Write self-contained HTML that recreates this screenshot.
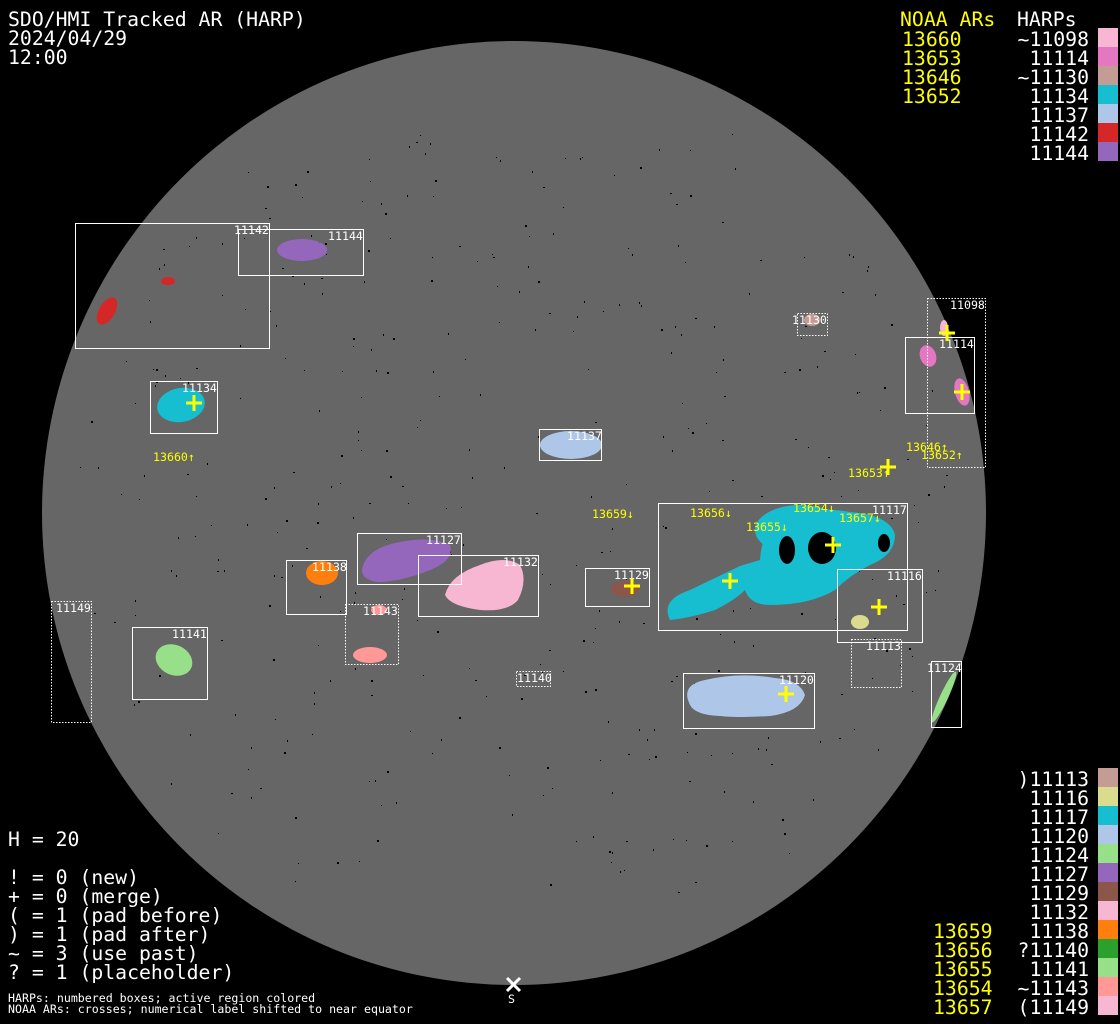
<!DOCTYPE html>
<html><head><meta charset="utf-8"><style>
html,body{margin:0;padding:0;background:#000;}
svg{display:block}
text{font-family:"DejaVu Sans Mono","Liberation Mono",monospace;}
.b{font-size:19.8px;fill:#fff}
.y{font-size:19.8px;fill:#ff0}
.s{font-size:11.6px;fill:#fff}
.sy{font-size:11.6px;fill:#ff0}
.bx{fill:none;stroke:#fff;stroke-width:1}
.dx{fill:none;stroke:#fff;stroke-width:1;stroke-dasharray:1.5 1.5}
.cr{stroke:#ff0;stroke-width:3}
</style></head><body>
<svg id="s" width="1120" height="1024" viewBox="0 0 1120 1024" xmlns="http://www.w3.org/2000/svg">
<rect width="1120" height="1024" fill="#000"/>
<circle cx="514" cy="513" r="472" fill="#666"/>
<g id="dots" fill="#000"></g>
<ellipse cx="107" cy="311" rx="8" ry="15" transform="rotate(30 107 311)" fill="#d62728"/>
<ellipse cx="168" cy="281" rx="7" ry="4" fill="#d62728"/>
<ellipse cx="302" cy="250" rx="25" ry="11" fill="#9467bd"/>
<ellipse cx="181" cy="405" rx="24" ry="17" transform="rotate(-10 181 405)" fill="#17becf"/>
<ellipse cx="571" cy="445" rx="31" ry="14" fill="#aec7e8"/>
<ellipse cx="812" cy="320" rx="8" ry="6" fill="#c49c94"/>
<ellipse cx="944" cy="328" rx="4" ry="8" fill="#f7b6d2"/>
<ellipse cx="928" cy="356" rx="8" ry="11" transform="rotate(-20 928 356)" fill="#e377c2"/>
<ellipse cx="962" cy="392" rx="7" ry="14" transform="rotate(-15 962 392)" fill="#e377c2"/>
<path d="M670 620 Q660 600 690 590 Q715 578 740 566 L760 560 Q762 530 780 518 Q810 505 850 512 Q890 515 895 535 Q895 555 870 565 Q850 575 835 590 Q810 605 770 605 Q750 605 745 590 Q735 600 715 610 Q690 618 670 620Z" fill="#17becf"/>
<ellipse cx="800" cy="530" rx="45" ry="25" fill="#17becf"/>
<ellipse cx="787" cy="550" rx="8" ry="14" fill="#000"/>
<ellipse cx="822" cy="548" rx="14" ry="16" fill="#000"/>
<ellipse cx="884" cy="543" rx="6" ry="9" fill="#000"/>
<ellipse cx="860" cy="622" rx="9" ry="7" fill="#dbdb8d"/>
<ellipse cx="944" cy="697" rx="4" ry="28" transform="rotate(25 944 697)" fill="#98df8a"/>
<path d="M690 705 Q680 685 705 680 Q740 672 775 678 Q800 680 805 695 Q800 712 770 716 Q740 718 720 716 Q695 715 690 705Z" fill="#aec7e8"/>
<ellipse cx="625" cy="589" rx="14" ry="8" fill="#8c564b"/>
<path d="M445 595 Q450 575 480 565 Q505 555 520 565 Q528 580 518 600 Q508 612 480 610 Q450 606 445 595Z" fill="#f7b6d2"/>
<path d="M362 570 Q365 550 395 543 Q430 535 450 545 Q455 560 430 570 Q400 582 378 582 Q362 580 362 570Z" fill="#9467bd"/>
<ellipse cx="322" cy="573" rx="16" ry="12" fill="#ff7f0e"/>
<ellipse cx="379" cy="610" rx="8" ry="5" fill="#ff9896"/>
<ellipse cx="370" cy="655" rx="17" ry="8" fill="#ff9896"/>
<ellipse cx="174" cy="660" rx="19" ry="15" transform="rotate(25 174 660)" fill="#98df8a"/>
<rect class="bx" x="75.5" y="223.5" width="194" height="125"/>
<rect class="bx" x="238.5" y="229.5" width="125" height="46"/>
<rect class="dx" x="797.5" y="313.5" width="30" height="22"/>
<rect class="dx" x="927.5" y="298.5" width="58" height="169"/>
<rect class="bx" x="905.5" y="337.5" width="69" height="76"/>
<rect class="bx" x="150.5" y="381.5" width="67" height="52"/>
<rect class="bx" x="539.5" y="429.5" width="62" height="31"/>
<rect class="bx" x="658.5" y="503.5" width="249" height="127"/>
<rect class="bx" x="837.5" y="569.5" width="85" height="73"/>
<rect class="dx" x="851.5" y="639.5" width="50" height="48"/>
<rect class="bx" x="931.5" y="661.5" width="30" height="66"/>
<rect class="bx" x="683.5" y="673.5" width="131" height="55"/>
<rect class="bx" x="585.5" y="568.5" width="64" height="38"/>
<rect class="bx" x="418.5" y="555.5" width="120" height="61"/>
<rect class="bx" x="357.5" y="533.5" width="104" height="51"/>
<rect class="bx" x="286.5" y="560.5" width="60" height="54"/>
<rect class="dx" x="345.5" y="604.5" width="53" height="60"/>
<rect class="bx" x="132.5" y="627.5" width="75" height="72"/>
<rect class="dx" x="51.5" y="601.5" width="40" height="121"/>
<rect class="dx" x="516.5" y="671.5" width="34" height="15"/>
<g class="s">
<text x="234" y="234">11142</text><text x="328" y="240">11144</text>
<text x="792" y="324">11130</text><text x="950" y="309">11098</text>
<text x="939" y="348">11114</text><text x="182" y="392">11134</text>
<text x="567" y="440">11137</text><text x="872" y="514">11117</text>
<text x="887" y="580">11116</text><text x="866" y="650">11113</text>
<text x="927" y="672">11124</text><text x="779" y="684">11120</text>
<text x="614" y="579">11129</text><text x="503" y="566">11132</text>
<text x="426" y="544">11127</text><text x="312" y="571">11138</text>
<text x="363" y="615">11143</text><text x="172" y="638">11141</text>
<text x="56" y="612">11149</text><text x="517" y="682">11140</text>
</g>
<g class="sy">
<text x="153" y="461">13660↑</text><text x="906" y="451">13646↑</text>
<text x="921" y="459">13652↑</text><text x="848" y="477">13653↑</text>
<text x="592" y="518">13659↓</text><text x="690" y="517">13656↓</text>
<text x="793" y="512">13654↓</text><text x="746" y="531">13655↓</text>
<text x="839" y="522">13657↓</text>
</g>
<g class="cr">
<path d="M186 403h16M194 395v16"/><path d="M939 333h16M947 325v16"/>
<path d="M954 392h16M962 384v16"/><path d="M880 467h16M888 459v16"/>
<path d="M825 545h16M833 537v16"/><path d="M722 581h16M730 573v16"/>
<path d="M871 607h16M879 599v16"/><path d="M624 586h16M632 578v16"/>
<path d="M778 694h16M786 686v16"/>
</g>
<path d="M507 978l13 13M520 978l-13 13" stroke="#fff" stroke-width="3"/>
<text class="s" x="508" y="1003">S</text>
<text class="b" x="8" y="26">SDO/HMI Tracked AR (HARP)</text>
<text class="b" x="8" y="45">2024/04/29</text>
<text class="b" x="8" y="64">12:00</text>
<text class="y" x="900" y="26">NOAA ARs</text>
<text class="b" x="1017" y="26">HARPs</text>
<g class="y"><text x="902" y="46">13660</text><text x="902" y="65">13653</text><text x="902" y="84">13646</text><text x="902" y="103">13652</text></g>
<g class="b" text-anchor="end">
<text x="1089" y="46">~11098</text><text x="1089" y="65">11114</text><text x="1089" y="84">~11130</text><text x="1089" y="103">11134</text><text x="1089" y="122">11137</text><text x="1089" y="141">11142</text><text x="1089" y="160">11144</text>
</g>
<rect x="1098" y="28" width="20" height="19" fill="#f7b6d2"/>
<rect x="1098" y="47" width="20" height="19" fill="#e377c2"/>
<rect x="1098" y="66" width="20" height="19" fill="#c49c94"/>
<rect x="1098" y="85" width="20" height="19" fill="#17becf"/>
<rect x="1098" y="104" width="20" height="19" fill="#aec7e8"/>
<rect x="1098" y="123" width="20" height="19" fill="#d62728"/>
<rect x="1098" y="142" width="20" height="19" fill="#9467bd"/>
<g class="b" text-anchor="end">
<text x="1089" y="786">)11113</text><text x="1089" y="805">11116</text><text x="1089" y="824">11117</text><text x="1089" y="843">11120</text><text x="1089" y="862">11124</text><text x="1089" y="881">11127</text><text x="1089" y="900">11129</text><text x="1089" y="919">11132</text><text x="1089" y="938">11138</text><text x="1089" y="957">?11140</text><text x="1089" y="976">11141</text><text x="1089" y="995">~11143</text><text x="1089" y="1014">(11149</text>
</g>
<g class="y"><text x="933" y="938">13659</text><text x="933" y="957">13656</text><text x="933" y="976">13655</text><text x="933" y="995">13654</text><text x="933" y="1014">13657</text></g>
<rect x="1098" y="768" width="20" height="19" fill="#c49c94"/>
<rect x="1098" y="787" width="20" height="19" fill="#dbdb8d"/>
<rect x="1098" y="806" width="20" height="19" fill="#17becf"/>
<rect x="1098" y="825" width="20" height="19" fill="#aec7e8"/>
<rect x="1098" y="844" width="20" height="19" fill="#98df8a"/>
<rect x="1098" y="863" width="20" height="19" fill="#9467bd"/>
<rect x="1098" y="882" width="20" height="19" fill="#8c564b"/>
<rect x="1098" y="901" width="20" height="19" fill="#f7b6d2"/>
<rect x="1098" y="920" width="20" height="19" fill="#ff7f0e"/>
<rect x="1098" y="939" width="20" height="19" fill="#2ca02c"/>
<rect x="1098" y="958" width="20" height="19" fill="#98df8a"/>
<rect x="1098" y="977" width="20" height="19" fill="#ff9896"/>
<rect x="1098" y="996" width="20" height="19" fill="#f7b6d2"/>
<g class="b">
<text x="8" y="846">H = 20</text>
<text x="8" y="884">! = 0 (new)</text>
<text x="8" y="903">+ = 0 (merge)</text>
<text x="8" y="922">( = 1 (pad before)</text>
<text x="8" y="941">) = 1 (pad after)</text>
<text x="8" y="960">~ = 3 (use past)</text>
<text x="8" y="979">? = 1 (placeholder)</text>
</g>
<text class="s" x="8" y="1002">HARPs: numbered boxes; active region colored</text>
<text class="s" x="8" y="1013">NOAA ARs: crosses; numerical label shifted to near equator</text>
</svg>
<script>
(function(){var g=document.getElementById('dots'),s=12345;function r(){s=(s*16807)%2147483647;return s/2147483647;}
var h='';for(var i=0;i<500;i++){var x=514+(r()*2-1)*450,y=513+(r()*2-1)*380;var dx=x-514,dy=y-513;if(dx*dx+dy*dy>440*440)continue;var w=1+Math.floor(r()*1.5),hh=1+Math.floor(r()*2);h+='<rect x="'+x.toFixed(0)+'" y="'+y.toFixed(0)+'" width="'+w+'" height="'+hh+'"/>';}
g.innerHTML=h;})();
</script>
</body></html>
